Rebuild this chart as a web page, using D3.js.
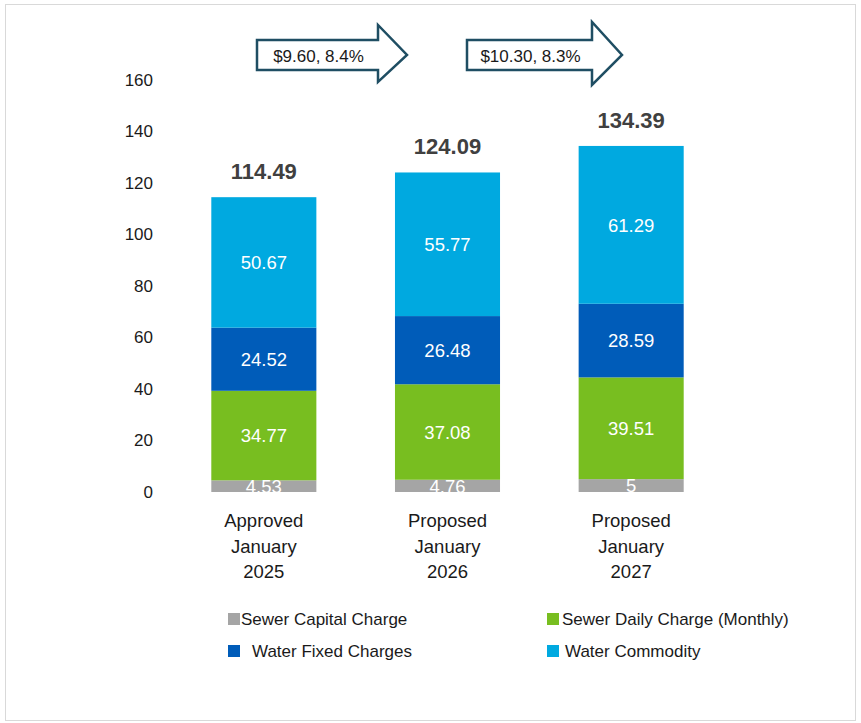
<!DOCTYPE html>
<html><head><meta charset="utf-8">
<script src="https://cdn.jsdelivr.net/npm/d3@7"></script>
<style>body{margin:0;background:#fff;font-family:"Liberation Sans",Arial,sans-serif}</style>
</head><body><svg id="c" width="861" height="723"></svg>
<script>
const categories = [["Approved","January","2025"],["Proposed","January","2026"],["Proposed","January","2027"]];
const seriesNames = ["Sewer Capital Charge","Sewer Daily Charge (Monthly)","Water Fixed Charges","Water Commodity"];
const sewerCapital = [4.53, 4.76, 5];
const sewerDaily = [34.77, 37.08, 39.51];
const waterFixed = [24.52, 26.48, 28.59];
const waterCommodity = [50.67, 55.77, 61.29];
const totals = ["114.49","124.09","134.39"];
const yTicks = [0,20,40,60,80,100,120,140,160];
const arrowLabels = ["$9.60, 8.4%","$10.30, 8.3%"];
const colors = ["#A5A5A5","#78BE20","#005CB9","#00A9E0"];

const svg = d3.select("#c");
svg.append("rect").attr("x",5.5).attr("y",4.5).attr("width",850).attr("height",716)
  .attr("fill","#fff").attr("stroke","#d9d9d9");

const keys = categories.map(c=>c.join(" "));
const x = d3.scaleBand().domain(keys).range([172,723]).paddingInner(0.428).paddingOuter(0.214);
const y = d3.scaleLinear().domain([0,160]).range([492,80]);

const rows = keys.map((k,i)=>({key:k, s0:sewerCapital[i], s1:sewerDaily[i], s2:waterFixed[i], s3:waterCommodity[i]}));
const stack = d3.stack().keys(["s0","s1","s2","s3"])(rows);

const yAxis = d3.axisLeft(y).tickValues(yTicks).tickSize(0).tickPadding(0);
const ga = svg.append("g").attr("transform","translate(153,0)").call(yAxis);
ga.select(".domain").remove();
ga.selectAll("text").attr("font-size",17).attr("fill","#1a1a1a").attr("font-family","Liberation Sans, Arial, sans-serif");

stack.forEach((layer,li)=>{
  svg.append("g").selectAll("rect").data(layer).join("rect")
    .attr("x",d=>x(d.data.key)).attr("width",x.bandwidth())
    .attr("y",d=>y(d[1])).attr("height",d=>y(d[0])-y(d[1]))
    .attr("fill",colors[li]);
});
svg.append("clipPath").attr("id","clipb").append("rect").attr("x",0).attr("y",0).attr("width",861).attr("height",492);
stack.forEach((layer,li)=>{
  svg.append("g").attr("clip-path","url(#clipb)").selectAll("text").data(layer).join("text")
    .attr("x",d=>x(d.data.key)+x.bandwidth()/2)
    .attr("y",d=>(y(d[0])+y(d[1]))/2)
    .attr("dy","0.36em").attr("text-anchor","middle")
    .attr("font-size",18.5).attr("fill","#fff")
    .text(d=>String(+(d[1]-d[0]).toFixed(2)));
});
svg.append("g").selectAll("text").data(stack[3]).join("text")
  .attr("x",d=>x(d.data.key)+x.bandwidth()/2)
  .attr("y",d=>y(d[1])-26).attr("dy","0.36em")
  .attr("text-anchor","middle").attr("font-size",22).attr("font-weight","bold").attr("fill","#404040")
  .text((d,i)=>totals[i]);

const cg = svg.append("g");
categories.forEach((c,i)=>{
  const cx = x(keys[i])+x.bandwidth()/2;
  const t = cg.append("text").attr("text-anchor","middle").attr("font-size",18.5).attr("fill","#1a1a1a");
  c.forEach((line,j)=>t.append("tspan").attr("x",cx).attr("y",527+j*25.5).text(line));
});

const legendPos = [[228,619,241],[547,619,562],[228,651,252],[547,651,565]];
seriesNames.forEach((n,i)=>{
  const [sx,sy,tx] = legendPos[i];
  svg.append("rect").attr("x",sx).attr("y",sy-6).attr("width",12).attr("height",12).attr("fill",colors[i]);
  svg.append("text").attr("x",tx).attr("y",sy).attr("dy","0.36em").attr("font-size",17).attr("fill","#1a1a1a").text(n);
});

const arrows = [{x0:257,xb:378,xt:407,yt:40,yb:70,ht:25,hb:82},{x0:467,xb:592,xt:622,yt:40,yb:70,ht:22,hb:85}];
arrows.forEach((a,i)=>{
  const ym=(a.yt+a.yb)/2;
  svg.append("path").attr("d",`M${a.x0},${a.yt}L${a.xb},${a.yt}L${a.xb},${a.ht}L${a.xt},${ym}L${a.xb},${a.hb}L${a.xb},${a.yb}L${a.x0},${a.yb}Z`)
    .attr("fill","#fff").attr("stroke","#1F4E63").attr("stroke-width",2.5).attr("stroke-linejoin","miter");
  svg.append("text").attr("x",(a.x0+a.xb)/2+1).attr("y",ym+1).attr("dy","0.36em").attr("text-anchor","middle")
    .attr("font-size",17).attr("fill","#1a1a1a").text(arrowLabels[i]);
});
</script></body></html>
